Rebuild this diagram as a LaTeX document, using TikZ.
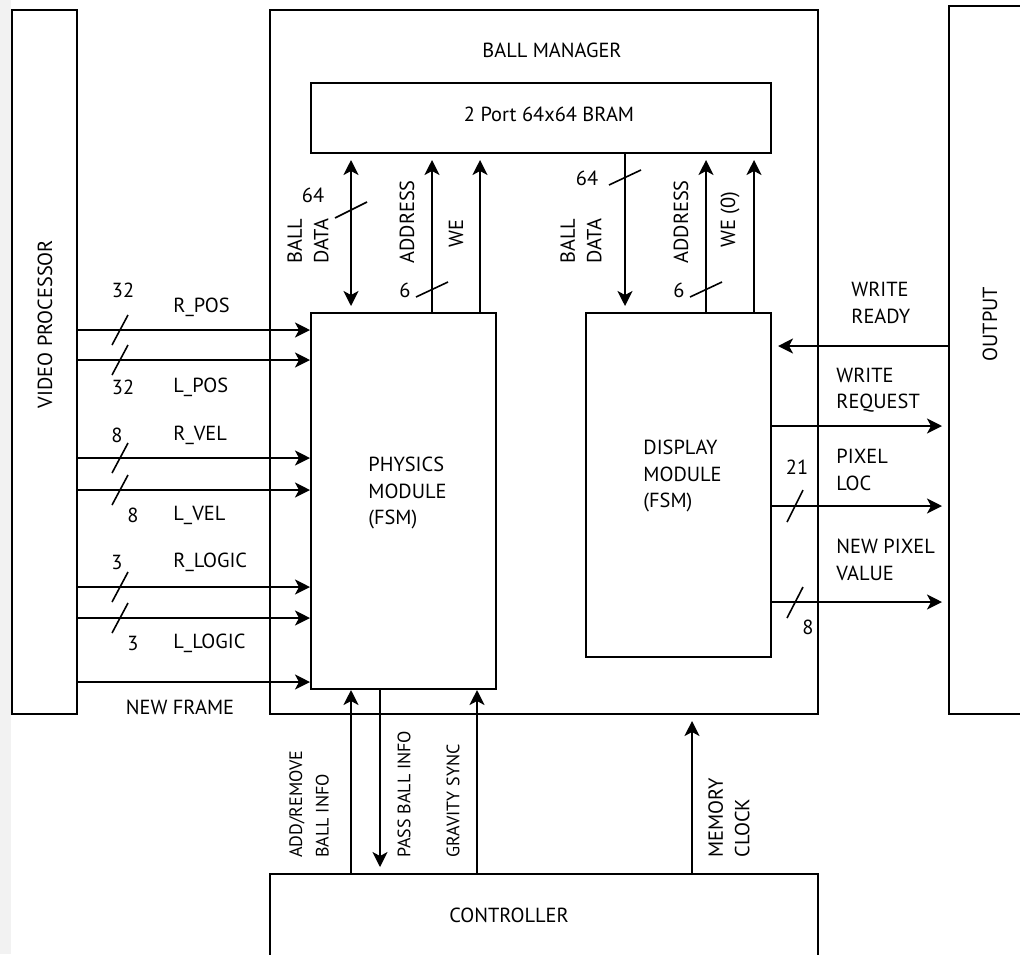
\documentclass[tikz,border=0pt]{standalone}
\usepackage{fontspec}
\setmainfont{PT Sans}
\usetikzlibrary{arrows.meta,positioning}

\tikzset{
  blk/.style={draw, line width=1pt, inner sep=0pt},
  sig/.style={line width=1pt, -{Stealth[length=7.5pt,width=7.5pt,inset=2pt]}},
  dsig/.style={line width=1pt, {Stealth[length=7.5pt,width=7.5pt,inset=2pt]}-{Stealth[length=7.5pt,width=7.5pt,inset=2pt]}, shorten <=3pt, shorten >=3pt},
  gap/.style={shorten >=3pt},
  bus/.style={line width=0.8pt},
  lbl/.style={inner sep=0pt, align=left},
  vlbl/.style={lbl, rotate=90, anchor=west},
  small/.style={font=\fontsize{9}{13.25}\selectfont},
}

\begin{document}
\begin{tikzpicture}[x=0.5pt, y=-0.5pt, font=\fontsize{10.2}{13.25}\selectfont]
\clip (0,0) rectangle (1020,954);
\fill[white] (0,0) rectangle (1020,954);
\fill[gray!10] (0,0) rectangle (11,954);
% Blocks
\node[blk, minimum width=32.5pt, minimum height=352pt] (vp) at (44.5,362) {};
\node[blk, minimum width=274pt, minimum height=352pt] (bm) at (544,362) {};
\node[blk, minimum width=40.5pt, minimum height=354pt] (out) at (989.5,360) {};
\node[blk, minimum width=230pt, minimum height=35pt] (bram) at (541,118) {};
\node[blk, minimum width=92.5pt, minimum height=188pt] (phys) at (403.5,501) {};
\node[blk, minimum width=92.5pt, minimum height=172pt] (disp) at (678.5,485) {};
\node[blk, minimum width=274pt, minimum height=48pt] (ctrl) at (544,922) {};
% Block names
\node[lbl, rotate=90] (vptxt) at (45,324) {VIDEO PROCESSOR};
\node[lbl, rotate=90] (outtxt) at (990,324) {OUTPUT};
\node[lbl] (bmtxt) at (552,50) {BALL MANAGER};
\node[lbl] (bramtxt) at (549,114) {2 Port 64x64 BRAM};
\node[lbl, anchor=west] (phystxt) at (368,493) {PHYSICS\\MODULE\\(FSM)};
\node[lbl, anchor=west] (disptxt) at (643,476) {DISPLAY\\MODULE\\(FSM)};
\node[lbl] (ctrltxt) at (509,915) {CONTROLLER};

% Video processor -> physics
\foreach \y in {330,360,458,490,587,618,682}
  \draw[sig] (vp.east |- 0,\y) -- (phys.west |- 0,\y);
\foreach \y in {330,360,458,490,587,618}
  \draw[bus] (112,{\y+15}) -- (128,{\y-15});
\node (w1) at (123,290) {32};
\node (w2) at (123,387) {32};
\node (w3) at (117,435) {8};
\node (w4) at (133,515) {8};
\node (w5) at (117,562) {3};
\node (w6) at (133,643) {3};
\node[lbl, anchor=west] (rpos) at (173,307) {R\_POS};
\node[lbl, anchor=west] (lpos) at (173,387) {L\_POS};
\node[lbl, anchor=west] (rvel) at (173,435) {R\_VEL};
\node[lbl, anchor=west] (lvel) at (173,515) {L\_VEL};
\node[lbl, anchor=west] (rlog) at (173,562) {R\_LOGIC};
\node[lbl, anchor=west] (llog) at (173,643) {L\_LOGIC};
\node[lbl] (nf) at (180,707) {NEW FRAME};

% Physics <-> BRAM
\draw[dsig] (phys.north -| 351,0) -- (bram.south -| 351,0);
\draw[sig, gap] (phys.north -| 432,0) -- (bram.south -| 432,0);
\draw[sig, gap] (phys.north -| 480,0) -- (bram.south -| 480,0);
\draw[bus] (335,218) -- (367,202);
\draw[bus] (416,297) -- (448,282);
\node (w7) at (313,195) {64};
\node (w8) at (405,290) {6};
\node[vlbl] (bd1) at (308,264) {BALL\\DATA};
\node[vlbl] (ad1) at (407,264) {ADDRESS};
\node[vlbl] (we1) at (456,248) {WE};

% BRAM <-> display
\draw[sig, gap] (bram.south -| 625,0) -- (disp.north -| 625,0);
\draw[sig, gap] (disp.north -| 706,0) -- (bram.south -| 706,0);
\draw[sig, gap] (disp.north -| 754,0) -- (bram.south -| 754,0);
\draw[bus] (609,185) -- (641,170);
\draw[bus] (690,297) -- (722,282);
\node (w9) at (587,178) {64};
\node (w10) at (679,290) {6};
\node[vlbl] (bd2) at (581,264) {BALL\\DATA};
\node[vlbl] (ad2) at (681,264) {ADDRESS};
\node[vlbl] (we2) at (730,248) {WE (0)};

% Display <-> output
\draw[sig, gap] (out.west |- 0,346) -- (disp.east |- 0,346);
\foreach \y in {426,506,602}
  \draw[sig, gap] (disp.east |- 0,\y) -- (out.west |- 0,\y);
\draw[bus] (787,522) -- (803,490);
\draw[bus] (787,618) -- (803,587);
\node (w11) at (797,467) {21};
\node (w12) at (808,627) {8};
\node[lbl, anchor=west] (wrdy) at (851,303) {WRITE\\READY};
\node[lbl, anchor=west] (wreq) at (836,390) {WRITE\\REQUEST};
\node[lbl, anchor=west] (ploc) at (836,470) {PIXEL\\LOC};
\node[lbl, anchor=west] (pval) at (836,560) {NEW PIXEL\\VALUE};

% Controller
\draw[sig] (ctrl.north -| 351,0) -- (phys.south -| 351,0);
\draw[sig, gap] (phys.south -| 380,0) -- (ctrl.north -| 380,0);
\draw[sig] (ctrl.north -| 477,0) -- (phys.south -| 477,0);
\draw[sig, gap] (ctrl.north -| 692,0) -- (bm.south -| 692,0);
\node[vlbl, small] (abi) at (309,858) {ADD/REMOVE\\BALL INFO};
\node[vlbl, small] (pbi) at (404,858) {PASS BALL INFO};
\node[vlbl, small] (gs) at (453,858) {GRAVITY SYNC};
\node[vlbl] (mc) at (729,858) {MEMORY\\CLOCK};
\end{tikzpicture}
\end{document}
